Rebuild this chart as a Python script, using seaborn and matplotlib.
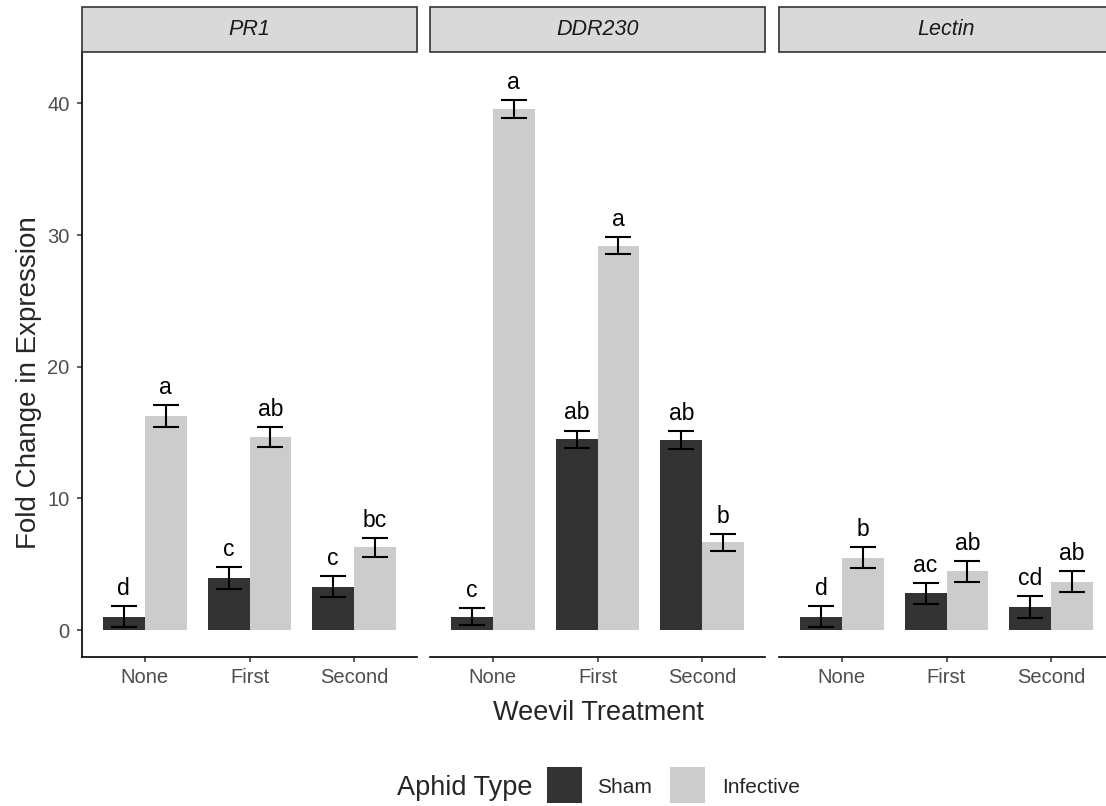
import numpy as np
import pandas as pd
import seaborn as sns
import matplotlib.pyplot as plt
from matplotlib.patches import Rectangle

# ---- data -------------------------------------------------------------
genes = ["PR1", "DDR230", "Lectin"]
weevil = ["None", "First", "Second"]
aphid = ["Sham", "Infective"]

pr1_sham = [1.0, 3.95, 3.3]
pr1_sham_se = [0.8, 0.8, 0.8]
pr1_inf = [16.25, 14.63, 6.28]
pr1_inf_se = [0.82, 0.76, 0.72]

ddr_sham = [1.0, 14.48, 14.45]
ddr_sham_se = [0.65, 0.67, 0.67]
ddr_inf = [39.56, 29.18, 6.66]
ddr_inf_se = [0.67, 0.64, 0.64]

lec_sham = [1.0, 2.8, 1.75]
lec_sham_se = [0.8, 0.8, 0.8]
lec_inf = [5.5, 4.45, 3.68]
lec_inf_se = [0.8, 0.78, 0.78]

pr1_sham_let = ["d", "c", "c"]
pr1_inf_let = ["a", "ab", "bc"]
ddr_sham_let = ["c", "ab", "ab"]
ddr_inf_let = ["a", "a", "b"]
lec_sham_let = ["d", "ac", "cd"]
lec_inf_let = ["b", "ab", "ab"]

y_ticks = [0, 10, 20, 30, 40]
colors = ["#333333", "#CCCCCC"]

means = {"PR1": (pr1_sham, pr1_inf), "DDR230": (ddr_sham, ddr_inf), "Lectin": (lec_sham, lec_inf)}
ses = {"PR1": (pr1_sham_se, pr1_inf_se), "DDR230": (ddr_sham_se, ddr_inf_se), "Lectin": (lec_sham_se, lec_inf_se)}
letters = {"PR1": (pr1_sham_let, pr1_inf_let), "DDR230": (ddr_sham_let, ddr_inf_let),
           "Lectin": (lec_sham_let, lec_inf_let)}

rows = []
for g in genes:
    for a_i, a in enumerate(aphid):
        for w_i, w in enumerate(weevil):
            rows.append({"Gene": g, "Weevil": w, "Aphid": a,
                         "Fold": means[g][a_i][w_i], "SE": ses[g][a_i][w_i],
                         "Letter": letters[g][a_i][w_i]})
df = pd.DataFrame(rows)

# ---- style ------------------------------------------------------------
sns.set_style("ticks")
plt.rcParams["font.family"] = ["Liberation Sans", "DejaVu Sans"]

W, H = 1106, 806
fig = plt.figure(figsize=(W / 100, H / 100), dpi=100)


def fx(px):
    return px / W


def fy(py):
    return 1 - py / H


panel_left = [82, 430, 779]
panel_w = 335
top_px, bot_px = 52, 657.3
strip_h = 45

for i, g in enumerate(genes):
    ax = fig.add_axes([fx(panel_left[i]), fy(bot_px), panel_w / W, (bot_px - top_px) / H])
    sub = df[df["Gene"] == g]
    sns.barplot(data=sub, x="Weevil", y="Fold", hue="Aphid", order=weevil,
                hue_order=aphid, palette=colors, saturation=1, width=0.8,
                errorbar=None, linewidth=0, legend=False, ax=ax)

    for a_i, a in enumerate(aphid):
        cont = ax.containers[a_i]
        part = sub[sub["Aphid"] == a].set_index("Weevil").loc[weevil]
        for bar, (_, r) in zip(cont, part.iterrows()):
            xc = bar.get_x() + bar.get_width() / 2
            ax.errorbar(xc, r["Fold"], yerr=r["SE"], fmt="none", ecolor="black",
                        elinewidth=1.5, capsize=9.2, capthick=1.5, zorder=3)
            ax.annotate(r["Letter"], (xc, r["Fold"] + r["SE"]), xytext=(0, 8),
                        textcoords="offset points", ha="center", va="baseline",
                        fontsize=16.5, color="black")

    ax.set_xlim(-0.6, 2.6)
    ax.set_ylim(-2.07, 43.9)
    ax.set_xlabel("")
    ax.set_ylabel("")
    ax.set_facecolor("white")
    for s in ["top", "right"]:
        ax.spines[s].set_visible(False)
    ax.spines["bottom"].set_color("black")
    ax.spines["bottom"].set_linewidth(1.2)
    ax.tick_params(axis="x", length=3.5, width=1.1, color="#333333",
                   labelsize=14.5, labelcolor="#4D4D4D", pad=4.5)
    if i == 0:
        ax.spines["left"].set_color("black")
        ax.spines["left"].set_linewidth(1.2)
        ax.set_yticks(y_ticks)
        ax.tick_params(axis="y", length=3.5, width=1.1, color="#333333",
                       labelsize=14.5, labelcolor="#4D4D4D", pad=5.5)
    else:
        ax.spines["left"].set_visible(False)
        ax.tick_params(axis="y", left=False, labelleft=False)

    # facet strip
    sh = strip_h / (bot_px - top_px)
    ax.add_patch(Rectangle((0, 1.0), 1, sh, transform=ax.transAxes, clip_on=False,
                           facecolor="#D9D9D9", edgecolor="#333333", linewidth=1.2, zorder=5))
    ax.text(0.5, 1.0 + sh / 2, g, transform=ax.transAxes, ha="center", va="center",
            fontsize=15.5, style="italic", color="#1A1A1A", zorder=6)

# axis titles
fig.text(fx(598), fy(720), "Weevil Treatment", ha="center", va="baseline", fontsize=19.5)
fig.text(fx(29), fy(383), "Fold Change in Expression", ha="center", va="center",
         rotation=90, fontsize=20)

# legend
fig.text(fx(397), fy(795), "Aphid Type", ha="left", va="baseline", fontsize=19.5)
key_x = [547, 670]
lab_x = [597, 722]
for c, lab, kx, lx in zip(colors, aphid, key_x, lab_x):
    fig.add_artist(Rectangle((fx(kx), fy(803)), 35 / W, 36 / H, transform=fig.transFigure,
                             facecolor=c, edgecolor="none"))
    fig.text(fx(lx), fy(793), lab, ha="left", va="baseline", fontsize=15)

fig.savefig("out.png", dpi=100, facecolor="white")
